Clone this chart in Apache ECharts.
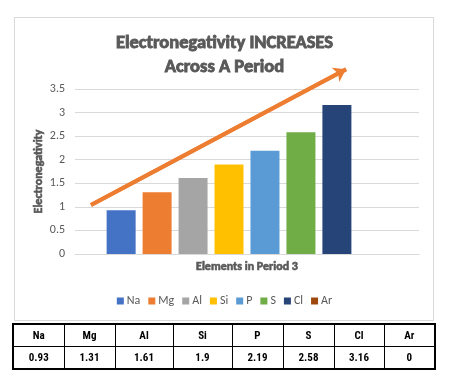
<!DOCTYPE html>
<html><head><meta charset="utf-8">
<script src="https://cdn.jsdelivr.net/npm/echarts@6/dist/echarts.min.js"></script>
<style>
html,body{margin:0;padding:0;background:#fff;}
#wrap{position:relative;width:449px;height:382px;}
#frame{position:absolute;left:14px;top:17px;width:418px;height:302px;border:1px solid #d9d9d9;}
#chart{position:absolute;left:0;top:0;width:449px;height:382px;}
#tbl{position:absolute;left:12px;top:323px;width:422px;height:45px;border-collapse:collapse;border:2px solid #000;font-family:"Roboto Condensed","Liberation Sans",sans-serif;font-weight:bold;font-size:11px;color:#000;table-layout:fixed;}
#tbl td{border:1px solid #000;text-align:center;padding:0;height:21px;line-height:21px;}
</style></head>
<body><div id="wrap"><div id="frame"></div><div id="chart"></div><table id="tbl"></table></div>
<script>
const elements = ['Na','Mg','Al','Si','P','S','Cl','Ar'];
const values = [0.93, 1.31, 1.61, 1.9, 2.19, 2.58, 3.16, 0];
const colors = ['#4472C4','#ED7D31','#A5A5A5','#FFC000','#5B9BD5','#70AD47','#264478','#9E480E'];
const yTicks = {min: 0, max: 3.5, interval: 0.5};
const arrowStart = [0.0465, 1.04];
const arrowEnd = [0.788, 3.92];

// data table
const tbl = document.getElementById('tbl');
const colW = [51,51,58,59,51,51,50,51];
tbl.innerHTML = '<colgroup>' + colW.map(w => '<col style="width:' + w + 'px">').join('') + '</colgroup>' +
  '<tr>' + elements.map(e => '<td>' + e + '</td>').join('') + '</tr>' +
  '<tr>' + values.map(v => '<td>' + v + '</td>').join('') + '</tr>';

const chart = echarts.init(document.getElementById('chart'));
const font = 'Carlito, Lato, sans-serif';
const gray = '#595959';
const boldText = (size) => ({fontFamily: font, fontSize: size, fontWeight: 'bold', color: gray,
  textBorderColor: gray, textBorderWidth: 0.6});
const series = elements.map((e, i) => ({
  name: e, type: 'bar', data: [values[i]], barWidth: 29, barGap: '24%',
  itemStyle: {color: colors[i]}, xAxisIndex: 0, yAxisIndex: 0
}));
series.push({
  name: 'trend', type: 'line', xAxisIndex: 1, yAxisIndex: 1,
  data: [arrowStart, arrowEnd], showSymbol: false, silent: true,
  lineStyle: {color: '#ED7D31', width: 4},
  markLine: {
    silent: true, symbol: ['none', 'arrow'], symbolSize: [12, 12],
    label: {show: false},
    lineStyle: {color: '#ED7D31', width: 4, type: 'solid'},
    data: [[{coord: arrowStart}, {coord: arrowEnd}]]
  }
});
chart.setOption({
  animation: false,
  textStyle: {fontFamily: font},
  title: {
    text: 'Electronegativity INCREASES\nAcross A Period',
    left: 'center', top: 26,
    textStyle: Object.assign(boldText(18.5), {lineHeight: 24, textBorderWidth: 0.9})
  },
  legend: {
    data: elements, top: 290, left: 'center', itemWidth: 7, itemHeight: 7, itemGap: 8,
    icon: 'rect', textStyle: {fontSize: 12, color: gray, fontFamily: font, padding: [0,0,0,-2]}
  },
  grid: [
    {left: 75, right: 30, top: 89, bottom: 128},
    {left: 75, right: 30, top: 254 - 4 * (165 / 3.5), bottom: 128}
  ],
  xAxis: [{
    type: 'category', data: [''], axisTick: {show: false}, axisLabel: {show: false},
    axisLine: {lineStyle: {color: '#d9d9d9'}},
    name: 'Elements in Period 3', nameLocation: 'middle', nameGap: 7,
    nameTextStyle: boldText(12)
  }, {
    type: 'value', gridIndex: 1, min: 0, max: 1, show: false
  }],
  yAxis: [{
    type: 'value', min: yTicks.min, max: yTicks.max, interval: yTicks.interval,
    axisLabel: {fontSize: 12, color: gray, margin: 10, fontFamily: font},
    splitLine: {lineStyle: {color: '#d9d9d9'}},
    axisLine: {show: false}, axisTick: {show: false},
    name: 'Electronegativity', nameLocation: 'middle', nameGap: 30, nameRotate: 90,
    nameMoveOverlap: false,
    nameTextStyle: boldText(12)
  }, {
    type: 'value', gridIndex: 1, min: 0, max: 4, show: false
  }],
  series: series
});
</script></body></html>
